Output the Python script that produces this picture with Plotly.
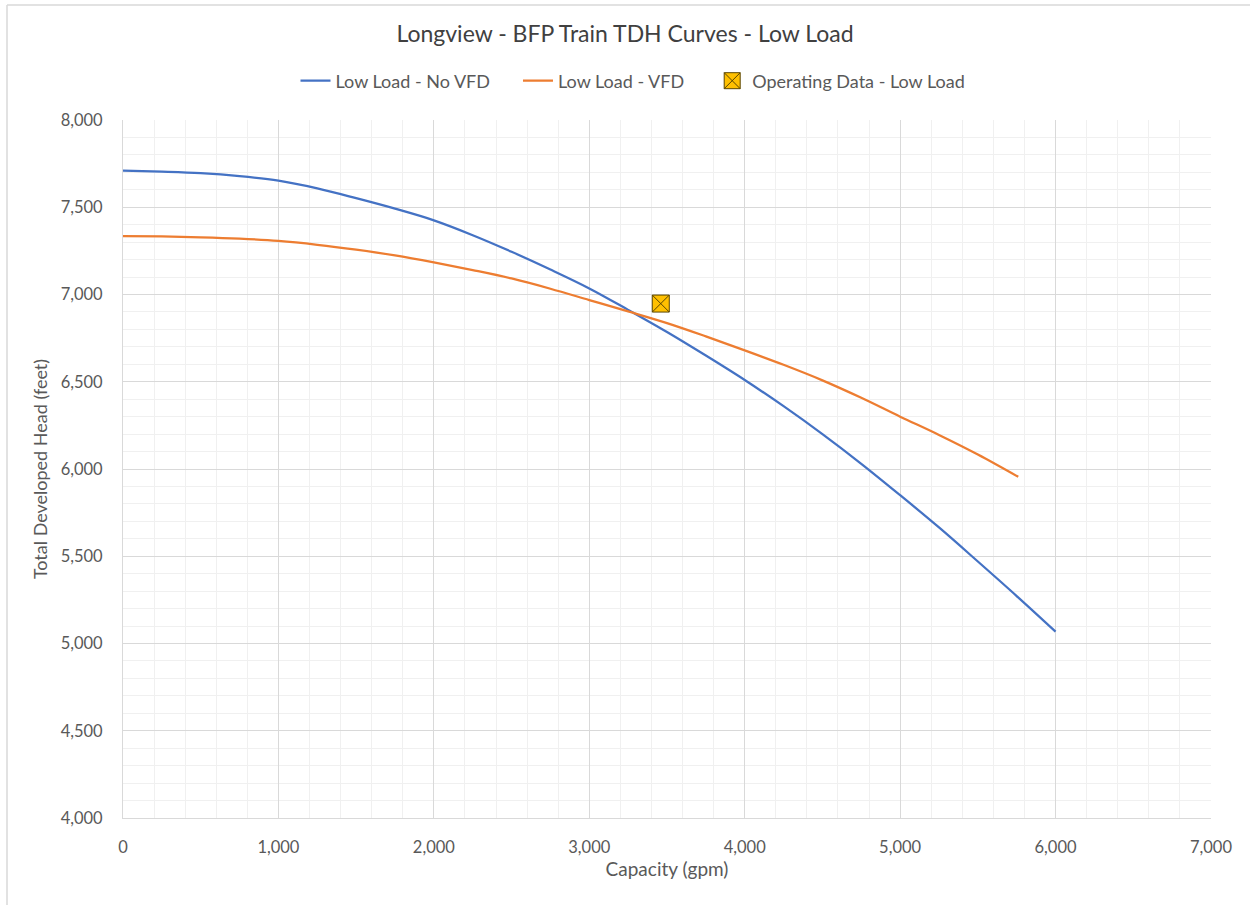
import plotly.graph_objects as go

# Data
no_vfd_x = [0, 250, 500, 750, 1000, 1250, 1500, 1750, 2000, 2250, 2500, 2750, 3000,
            3250, 3500, 3750, 4000, 4250, 4500, 4750, 5000, 5250, 5500, 5750, 6000]
no_vfd_y = [7710, 7704, 7695, 7678, 7652, 7608, 7552, 7492, 7425, 7340, 7245, 7143, 7035,
            6912, 6785, 6650, 6510, 6360, 6200, 6030, 5850, 5665, 5470, 5272, 5068]

vfd_x = [0, 250, 500, 750, 1000, 1250, 1500, 1750, 2000, 2250, 2500, 2750, 3000,
         3250, 3500, 3750, 4000, 4250, 4500, 4750, 5000, 5250, 5500, 5760]
vfd_y = [7335, 7333, 7328, 7320, 7307, 7285, 7257, 7224, 7184, 7140, 7092, 7033, 6968,
         6903, 6836, 6760, 6680, 6597, 6508, 6408, 6300, 6195, 6083, 5955]

op_x = [3460]
op_y = [6948]

series_names = ["Low Load - No VFD", "Low Load - VFD", "Operating Data - Low Load"]
title_text = "Longview - BFP Train TDH Curves - Low Load"
x_title = "Capacity (gpm)"
y_title = "Total Developed Head (feet)"

FONT = "Lato"
TXT = "#595959"
PAD = "\u00a0" * 5

fig = go.Figure()
fig.add_trace(go.Scatter(x=no_vfd_x, y=no_vfd_y, mode="lines", name=series_names[0] + PAD,
                         line=dict(color="#4472C4", width=2.25, shape="spline", smoothing=1)))
fig.add_trace(go.Scatter(x=vfd_x, y=vfd_y, mode="lines", name=series_names[1] + PAD,
                         line=dict(color="#ED7D31", width=2.25, shape="spline", smoothing=1)))
fig.add_trace(go.Scatter(x=op_x, y=op_y, mode="markers", name=series_names[2],
                         marker=dict(symbol="square-x", size=17, color="#FFC000",
                                     line=dict(color="#5a4500", width=1))))

fig.update_layout(
    width=1250, height=905,
    margin=dict(l=123, r=39, t=120, b=87),
    paper_bgcolor="white", plot_bgcolor="white",
    font=dict(family=FONT, size=16, color=TXT),
    title=dict(text=title_text, x=0.5, xanchor="center", y=0.962, yanchor="middle",
               font=dict(family=FONT, size=23, color="#404040")),
    legend=dict(orientation="h", x=(633 - 123) / 1088, xanchor="center",
                y=1.0 + (120 - 81) / 698, yanchor="middle",
                font=dict(family=FONT, size=18, color=TXT), itemwidth=30,
                bgcolor="rgba(0,0,0,0)"),
    showlegend=True,
)

fig.update_xaxes(range=[0, 7000], dtick=1000, tickformat=",", showgrid=True,
                 gridcolor="#d9d9d9", gridwidth=1,
                 minor=dict(dtick=200, showgrid=True, gridcolor="#f0f0f0", gridwidth=1),
                 showline=True, linecolor="#d9d9d9", linewidth=1, zeroline=False,
                 ticks="", ticklabelstandoff=14,
                 title=dict(text=x_title, font=dict(family=FONT, size=19, color=TXT), standoff=6),
                 tickfont=dict(family=FONT, size=16.5, color=TXT))
fig.update_yaxes(range=[4000, 8000], dtick=500, tickformat=",", showgrid=True,
                 gridcolor="#d9d9d9", gridwidth=1,
                 minor=dict(dtick=100, showgrid=True, gridcolor="#f0f0f0", gridwidth=1),
                 showline=True, linecolor="#d9d9d9", linewidth=1, zeroline=False,
                 ticks="", ticklabelstandoff=16,
                 title=dict(text=y_title, font=dict(family=FONT, size=18, color=TXT), standoff=8),
                 tickfont=dict(family=FONT, size=16.5, color=TXT))

# chart-area border (top and left edges visible in the reference)
fig.add_shape(type="line", xref="paper", yref="paper",
              x0=(7 - 123) / 1088, x1=(1250 - 123) / 1088,
              y0=1 + (120 - 5) / 698, y1=1 + (120 - 5) / 698,
              line=dict(color="#d9d9d9", width=1.5))
fig.add_shape(type="line", xref="paper", yref="paper",
              x0=(7 - 123) / 1088, x1=(7 - 123) / 1088,
              y0=1 + (120 - 5) / 698, y1=-(905 - 818) / 698,
              line=dict(color="#d9d9d9", width=1.5))

fig.write_html("out.html")
